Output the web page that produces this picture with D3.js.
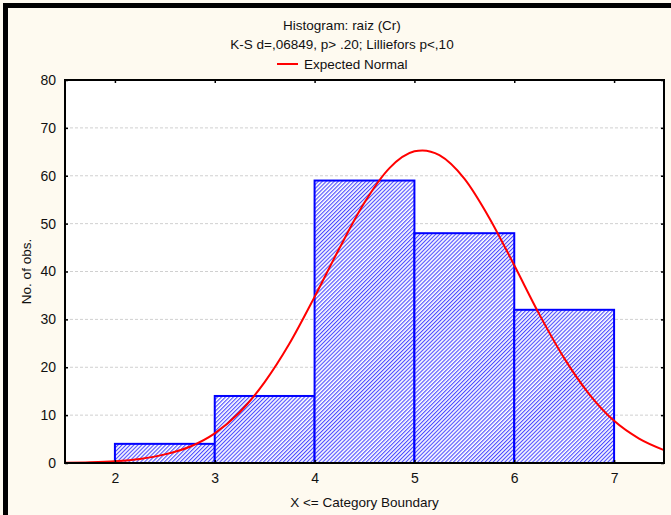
<!DOCTYPE html>
<html>
<head>
<meta charset="utf-8">
<script src="https://cdn.jsdelivr.net/npm/d3@7"></script>
<style>
  html, body { margin: 0; padding: 0; background: #fefaf0; }
  svg { display: block; font-family: "Liberation Sans", Arial, sans-serif; }
</style>
</head>
<body>
<div id="chart"></div>
<script>
// bin upper boundaries and counts
const binEdges = [2, 3, 4, 5, 6, 7];
const counts = [4, 14, 59, 48, 32];
const xTicks = [2, 3, 4, 5, 6, 7];
const yTicks = [0, 10, 20, 30, 40, 50, 60, 70, 80];

// expected normal curve
const curveX = [1.5, 1.75, 2, 2.25, 2.5, 2.75, 3, 3.25, 3.5, 3.75, 4, 4.25, 4.5, 4.75, 5, 5.08, 5.25, 5.5, 5.75, 6, 6.25, 6.5, 6.75, 7, 7.25, 7.5];
const curveY = [0.06, 0.16, 0.38, 0.85, 1.8, 3.4, 6.2, 10.6, 16.9, 25.0, 34.7, 44.9, 54.4, 61.6, 65.1, 65.3, 64.3, 59.4, 51.2, 41.3, 31.1, 21.9, 14.4, 8.8, 5.1, 2.7];

const titleLines = ["Histogram: raiz (Cr)", "K-S d=,06849, p> .20; Lilliefors p<,10"];
const legendLabel = "Expected Normal";

const width = 671, height = 515;
const margin = {top: 80, left: 65, bottom: 52, right: 7};

const svg = d3.select("#chart").append("svg")
              .attr("width", width)
              .attr("height", height);

svg.append("rect").attr("width", width).attr("height", height).attr("fill", "#fefaf0");
// dark frame edges
svg.append("rect").attr("x", 3).attr("y", 3).attr("width", width - 3).attr("height", 5).attr("fill", "#000");
svg.append("rect").attr("x", 3).attr("y", 3).attr("width", 5).attr("height", height - 3).attr("fill", "#000");

const defs = svg.append("defs");
const pat = defs.append("pattern")
                .attr("id", "hatch")
                .attr("patternUnits", "userSpaceOnUse")
                .attr("width", 2.8)
                .attr("height", 2.8)
                .attr("patternTransform", "rotate(45)");
pat.append("rect").attr("width", 2.8).attr("height", 2.8).attr("fill", "#fff");
pat.append("line")
   .attr("x1", 0.6).attr("y1", 0).attr("x2", 0.6).attr("y2", 2.8)
   .attr("stroke", "#3535ff").attr("stroke-width", 1);

const scaleX = d3.scaleLinear().domain([1.5, 7.5]).range([margin.left, width - margin.right]);
const scaleY = d3.scaleLinear().domain([0, 80]).range([height - margin.bottom, margin.top]);

const x0 = scaleX.range()[0], x1 = scaleX.range()[1];
const y0 = scaleY.range()[0], y1 = scaleY.range()[1];

svg.append("rect")
   .attr("x", x0).attr("y", y1)
   .attr("width", x1 - x0).attr("height", y0 - y1)
   .attr("fill", "#fff");

// grid
svg.append("g")
   .selectAll("line")
   .data(yTicks.filter(t => t > 0 && t < 80))
   .join("line")
   .attr("x1", x0).attr("x2", x1)
   .attr("y1", d => scaleY(d)).attr("y2", d => scaleY(d))
   .attr("stroke", "#d0d0d0")
   .attr("stroke-dasharray", "3,2");

// bars
const bins = counts.map((c, i) => ({lo: binEdges[i], hi: binEdges[i + 1], count: c}));
svg.append("g")
   .selectAll("rect")
   .data(bins)
   .join("rect")
   .attr("x", d => scaleX(d.lo))
   .attr("y", d => scaleY(d.count))
   .attr("width", d => scaleX(d.hi) - scaleX(d.lo))
   .attr("height", d => scaleY(0) - scaleY(d.count))
   .attr("fill", "url(#hatch)")
   .attr("stroke", "#0000ff")
   .attr("stroke-width", 2);

// normal curve
const pts = curveX.map((x, i) => [x, curveY[i]]);
svg.append("path")
   .datum(pts)
   .attr("fill", "none")
   .attr("stroke", "#ff0000")
   .attr("stroke-width", 2)
   .attr("d", d3.line()
       .x(d => scaleX(d[0]))
       .y(d => scaleY(d[1]))
       .curve(d3.curveMonotoneX));

// axes: inward ticks, no domain
const axL = d3.axisLeft(scaleY).tickValues(yTicks).tickSize(-3).tickPadding(9);
const axR = d3.axisRight(scaleY).tickValues(yTicks).tickSize(-3).tickFormat("");
const axB = d3.axisBottom(scaleX).tickValues(xTicks).tickSize(-3).tickPadding(10).tickFormat(d3.format("d"));
const axT = d3.axisTop(scaleX).tickValues(xTicks).tickSize(-3).tickFormat("");

const gL = svg.append("g").attr("transform", `translate(${x0},0)`).call(axL);
const gR = svg.append("g").attr("transform", `translate(${x1},0)`).call(axR);
const gB = svg.append("g").attr("transform", `translate(0,${y0})`).call(axB);
const gT = svg.append("g").attr("transform", `translate(0,${y1})`).call(axT);
[gL, gR, gB, gT].forEach(g => {
    g.select(".domain").remove();
    g.selectAll(".tick line").attr("stroke", "#000").attr("stroke-width", 1.5);
    g.selectAll("text").attr("font-size", 14).attr("fill", "#111")
     .style("font-family", "'Liberation Sans', Arial, sans-serif");
});

// frame
svg.append("rect")
   .attr("x", x0).attr("y", y1)
   .attr("width", x1 - x0).attr("height", y0 - y1)
   .attr("fill", "none")
   .attr("stroke", "#000")
   .attr("stroke-width", 2);

// titles
const cx = 342;
svg.append("g")
   .selectAll("text")
   .data(titleLines)
   .join("text")
   .attr("x", cx)
   .attr("y", (d, i) => 30 + i * 19)
   .attr("text-anchor", "middle")
   .attr("font-size", 13.5)
   .attr("fill", "#111")
   .text(d => d);

const leg = svg.append("g");
leg.append("line")
   .attr("x1", 277).attr("x2", 298)
   .attr("y1", 64).attr("y2", 64)
   .attr("stroke", "#ff0000").attr("stroke-width", 2);
leg.append("text")
   .attr("x", 304).attr("y", 69)
   .attr("font-size", 13.5)
   .attr("fill", "#111")
   .text(legendLabel);

svg.append("text")
   .attr("x", (x0 + x1) / 2)
   .attr("y", 507)
   .attr("text-anchor", "middle")
   .attr("font-size", 13.5)
   .attr("fill", "#111")
   .text("X <= Category Boundary");

svg.append("text")
   .attr("transform", `translate(31,${(y0 + y1) / 2}) rotate(-90)`)
   .attr("text-anchor", "middle")
   .attr("font-size", 13.5)
   .attr("fill", "#111")
   .text("No. of obs.");
</script>
</body>
</html>
